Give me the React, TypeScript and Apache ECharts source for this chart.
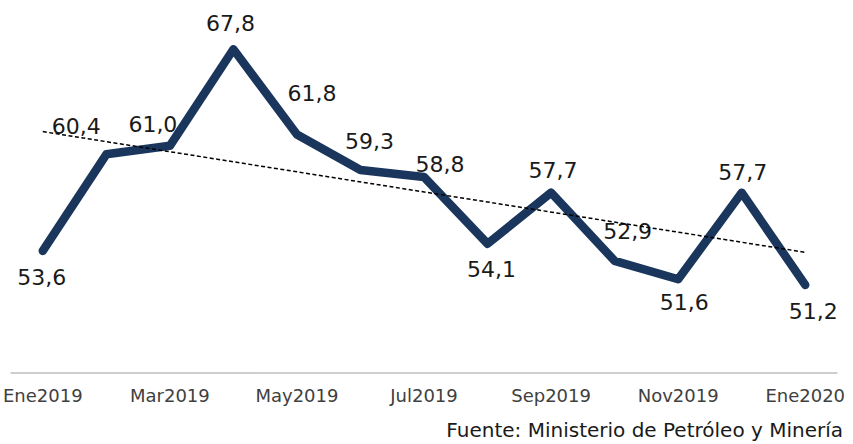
import React, { useEffect, useRef } from "react";
import * as echarts from "echarts";

const categories = ["Ene2019","Feb2019","Mar2019","Abr2019","May2019","Jun2019","Jul2019","Ago2019","Sep2019","Oct2019","Nov2019","Dic2019","Ene2020"];
const values = [53.6, 60.4, 61.0, 67.8, 61.8, 59.3, 58.8, 54.1, 57.7, 52.9, 51.6, 57.7, 51.2];
const trendStartEnd = [62.0, 53.5];
const source = "Fuente: Ministerio de Petróleo y Minería";

// label centre offsets from each point (styling)
const labelOffsets: [number, number][] = [
  [-1, 27], [-30, -28], [-17, -21], [-3, -26], [15, -41], [9, -28], [16, -13],
  [4, 26], [2, -22], [13, -29], [6, 23], [1, -20], [8, 27],
];

export default function App() {
  const ref = useRef<HTMLDivElement>(null);
  useEffect(() => {
    const chart = echarts.init(ref.current!, null, { renderer: "svg" });
    const trend = categories.map((_, i) => (i === 0 ? trendStartEnd[0] : i === categories.length - 1 ? trendStartEnd[1] : null));
    const font = "'DejaVu Sans', sans-serif";
    chart.setOption({
      animation: false,
      grid: { left: 10, right: 16, top: 18, bottom: 71 },
      xAxis: {
        type: "category",
        data: categories,
        boundaryGap: true,
        axisTick: { show: false },
        axisLine: { lineStyle: { color: "#bfbfbf", width: 1.5 } },
        axisLabel: { interval: 1, color: "#404040", fontSize: 18, fontFamily: font, margin: 13 },
      },
      yAxis: { type: "value", min: 45, max: 70, show: false, splitLine: { show: false } },
      series: [
        {
          type: "line",
          data: trend,
          connectNulls: true,
          symbol: "none",
          lineStyle: { color: "#000", width: 1.5, type: [4, 2.5] },
          z: 3,
        },
        {
          type: "line",
          data: values.map((v, i) => ({
            value: v,
            label: {
              show: true,
              position: [labelOffsets[i][0] + 0.5, labelOffsets[i][1] + 0.5],
              align: "center",
              verticalAlign: "middle",
            },
          })),
          symbol: "circle",
          showSymbol: true,
          symbolSize: 1,
          itemStyle: { color: "#1b365d" },
          lineStyle: { color: "#1b365d", width: 8.5, cap: "round", join: "round" },
          label: {
            show: true,
            align: "center",
            verticalAlign: "middle",
            fontSize: 22,
            fontFamily: font,
            color: "#1a1a1a",
            formatter: (p: any) => Number(p.value).toFixed(1).replace(".", ","),
          },
          z: 2,
        },
      ],
      graphic: [
        {
          type: "text",
          right: 10,
          top: 420,
          style: { text: source, fontSize: 20, fontFamily: font, fill: "#1a1a1a" },
        },
      ],
    });
    return () => chart.dispose();
  }, []);
  return <div ref={ref} style={{ width: 853, height: 444, position: "absolute", left: 0, top: 0 }} />;
}
